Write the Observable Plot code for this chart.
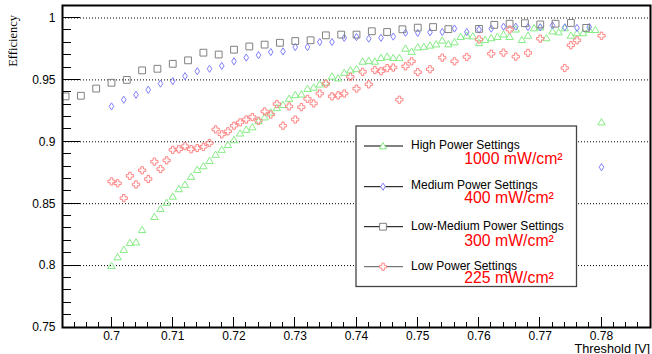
<!DOCTYPE html>
<html><head><meta charset="utf-8">
<script src="https://cdn.jsdelivr.net/npm/d3@7"></script>
<script src="https://cdn.jsdelivr.net/npm/@observablehq/plot@0.6"></script>
<style>body{margin:0;background:#fff;} svg{display:block}</style>
</head><body><div id="chart"></div>
<script>
// ---------- data ----------
const highThr = [0.700,0.701,0.702,0.703,0.704,0.705,0.707,0.708,0.709,0.710,0.711,0.712,0.713,0.714,0.715,0.716,0.717,0.718,0.719,0.720,0.721,0.722,0.723,0.724,0.725,0.726,0.727,0.728,0.729,0.730,0.731,0.732,0.733,0.734,0.735,0.736,0.737,0.738,0.739,0.740,0.741,0.742,0.743,0.744,0.745,0.746,0.747,0.748,0.749,0.750,0.751,0.752,0.753,0.754,0.755,0.756,0.757,0.758,0.759,0.760,0.761,0.762,0.763,0.764,0.765,0.766,0.767,0.768,0.769,0.770,0.771,0.772,0.773,0.774,0.775,0.776,0.777,0.778,0.779,0.780];
const highEff = [0.800,0.807,0.813,0.8185,0.819,0.829,0.8396,0.846,0.851,0.856,0.862,0.8655,0.872,0.8776,0.8805,0.8848,0.8898,0.8938,0.8977,0.9016,0.907,0.910,0.912,0.917,0.920,0.924,0.9275,0.930,0.935,0.938,0.9385,0.943,0.944,0.9466,0.948,0.953,0.9515,0.956,0.958,0.959,0.965,0.9655,0.965,0.968,0.969,0.968,0.968,0.9755,0.973,0.9765,0.977,0.978,0.979,0.982,0.979,0.9806,0.985,0.986,0.9854,0.980,0.9825,0.984,0.985,0.987,0.985,0.991,0.9825,0.986,0.992,0.9927,0.984,0.9895,0.9887,0.992,0.986,0.988,0.988,0.9906,0.9906,0.916];

const medThr = [0.700,0.702,0.704,0.706,0.708,0.710,0.712,0.714,0.716,0.718,0.720,0.722,0.724,0.726,0.728,0.730,0.732,0.734,0.736,0.738,0.740,0.742,0.744,0.746,0.748,0.750,0.752,0.754,0.756,0.758,0.760,0.762,0.764,0.766,0.768,0.770,0.772,0.774,0.776,0.778,0.780];
const medEff = [0.9286,0.934,0.938,0.942,0.947,0.949,0.953,0.957,0.959,0.9613,0.965,0.968,0.970,0.9725,0.973,0.9765,0.9765,0.9806,0.9806,0.984,0.9846,0.9833,0.984,0.985,0.988,0.988,0.9885,0.9887,0.9915,0.9887,0.9906,0.9914,0.993,0.993,0.9927,0.9925,0.994,0.9925,0.992,0.9927,0.8795];

const lowMedThr = [0.6925,0.695,0.6975,0.700,0.7025,0.705,0.7075,0.710,0.7125,0.715,0.7175,0.720,0.7225,0.725,0.7275,0.730,0.7325,0.735,0.7375,0.740,0.7425,0.745,0.7475,0.750,0.7525,0.755,0.760,0.7625,0.765,0.7675,0.770,0.7725,0.775,0.7775];
const lowMedEff = [0.9367,0.9372,0.943,0.9477,0.950,0.9577,0.959,0.963,0.9658,0.972,0.9705,0.9744,0.977,0.9785,0.980,0.9814,0.982,0.986,0.9866,0.9866,0.9893,0.9887,0.9909,0.9922,0.9927,0.991,0.9912,0.9945,0.9954,0.9958,0.9948,0.9954,0.996,0.992];

const lowThr = [0.700,0.701,0.702,0.703,0.704,0.705,0.706,0.707,0.708,0.709,0.710,0.711,0.712,0.713,0.714,0.715,0.716,0.717,0.718,0.719,0.720,0.721,0.722,0.723,0.724,0.725,0.726,0.727,0.728,0.729,0.730,0.731,0.732,0.733,0.734,0.735,0.736,0.737,0.738,0.739,0.740,0.741,0.742,0.743,0.744,0.745,0.746,0.747,0.748,0.749,0.750,0.752,0.754,0.756,0.758,0.760,0.762,0.764,0.765,0.766,0.768,0.770,0.774,0.775,0.776,0.780];
const lowEff = [0.868,0.8665,0.8545,0.8725,0.8655,0.877,0.870,0.884,0.878,0.885,0.8935,0.894,0.8965,0.894,0.895,0.896,0.899,0.910,0.906,0.9085,0.913,0.9157,0.918,0.920,0.917,0.9245,0.922,0.9305,0.913,0.9286,0.918,0.928,0.9347,0.931,0.939,0.947,0.9367,0.9375,0.939,0.9525,0.943,0.9565,0.9464,0.958,0.957,0.9595,0.960,0.934,0.961,0.965,0.9563,0.9586,0.968,0.965,0.9685,0.9827,0.9712,0.972,0.9907,0.9688,0.9718,0.9833,0.9596,0.978,0.982,0.9857];

const seriesNames = ["High Power Settings","Medium Power Settings","Low-Medium Power Settings","Low Power Settings"];
const powerLabels = ["1000 mW/cm\u00b2","400 mW/cm\u00b2","300 mW/cm\u00b2","225 mW/cm\u00b2"];
const colors = ["#86ec86","#7f7fff","#808080","#ff8585"];

const yMajor = [0.75,0.8,0.85,0.9,0.95,1];
const yGrid = [0.8,0.85,0.9,0.95,1];
const xMajor = [0.70,0.71,0.72,0.73,0.74,0.75,0.76,0.77,0.78];
const yMinor = d3.range(76,101).map(d => d/100);
const xMinor = d3.range(347,394).map(d => d/500);

// ---------- marker symbols (ROOT open markers) ----------
const triSym = {draw(c){c.moveTo(0,-3.4);c.lineTo(3.7,2.9);c.lineTo(-3.7,2.9);c.closePath();}};
const diaSym = {draw(c){c.moveTo(0,-3.6);c.lineTo(2.3,0);c.lineTo(0,3.6);c.lineTo(-2.3,0);c.closePath();}};
const sqSym  = {draw(c){c.moveTo(-3.4,-3.4);c.lineTo(3.4,-3.4);c.lineTo(3.4,3.4);c.lineTo(-3.4,3.4);c.closePath();}};
const crossSym = {draw(c){const a=3.6,b=1.25;
  c.moveTo(-b,-a);c.lineTo(b,-a);c.lineTo(b,-b);c.lineTo(a,-b);c.lineTo(a,b);c.lineTo(b,b);
  c.lineTo(b,a);c.lineTo(-b,a);c.lineTo(-b,b);c.lineTo(-a,b);c.lineTo(-a,-b);c.lineTo(-b,-b);c.closePath();}};
const symbols = [triSym, diaSym, sqSym, crossSym];

const thrs = [highThr, medThr, lowMedThr, lowThr];
const effs = [highEff, medEff, lowMedEff, lowEff];
const tables = thrs.map((t, i) => t.map((x, j) => ({x, y: effs[i][j]})));

const fmt = d => String(+d.toFixed(3));

const W = 652, H = 354, mL = 62, mR = 2, mT = 5, mB = 27;

const chart = Plot.plot({
  width: W, height: H,
  marginLeft: mL, marginRight: mR, marginTop: mT, marginBottom: mB,
  style: {fontFamily: "'Liberation Sans', Arial, Helvetica, sans-serif", fontSize: "12px", background: "white", color: "black"},
  x: {domain: [0.692, 0.788]},
  y: {domain: [0.75, 1.0101]},
  marks: [
    Plot.ruleY(yGrid, {stroke: "black", strokeWidth: 1, strokeDasharray: "1,2"}),
    ...tables.map((tb, i) => Plot.dot(tb, {x: "x", y: "y", symbol: symbols[i], stroke: colors[i], fill: "none", strokeWidth: 1, r: 3.5})),
    Plot.axisY(yMajor, {label: null, tickSize: 0, tickPadding: 7, tickFormat: fmt, fontSize: 12}),
    Plot.axisX(xMajor, {label: null, tickSize: 0, tickPadding: 4, tickFormat: fmt, fontSize: 12}),
    Plot.frame({stroke: "black", strokeWidth: 2})
  ]
});
document.getElementById("chart").appendChild(chart);

const svg = d3.select(chart);
const xs = chart.scale("x"), ys = chart.scale("y");
const x0 = mL, y0 = H - mB;

// inward ticks (ROOT style), positioned through Plot's own scales
const tg = svg.append("g").attr("stroke", "black").attr("stroke-width", 1).attr("shape-rendering", "crispEdges");
const tick = (x1, y1, x2, y2) => tg.append("line").attr("x1", x1).attr("y1", y1).attr("x2", x2).attr("y2", y2);
yMinor.forEach(v => { const y = ys.apply(v); tick(x0, y, x0 + 9, y); });
yMajor.forEach(v => { const y = ys.apply(v); tick(x0, y, x0 + 18, y); });
xMinor.forEach(v => { const x = xs.apply(v); tick(x, y0, x, y0 - 5); });
xMajor.forEach(v => { const x = xs.apply(v); tick(x, y0, x, y0 - 10); });

// axis titles
svg.append("text").attr("transform", "translate(17,15) rotate(-90)")
  .attr("text-anchor", "end").attr("font-family", "'Liberation Serif', 'Times New Roman', serif")
  .attr("font-size", 12.5).attr("fill", "black").text("Efficiency");
svg.append("text").attr("x", 650).attr("y", 352.5).attr("text-anchor", "end")
  .attr("font-size", 12.7).attr("fill", "black").text("Threshold [V]");

// legend
const lg = svg.append("g").attr("text-anchor", "start");
lg.append("rect").attr("x", 356).attr("y", 126).attr("width", 220.5).attr("height", 160.5)
  .attr("fill", "white").attr("stroke", "#444").attr("stroke-width", 1.3);
const entryY = [146, 186.7, 226.7, 266.7];
const nameY = [148.6, 189.2, 230, 269.5];
const powY = [163.5, 203.4, 246, 283.4];
seriesNames.forEach((name, i) => {
  lg.append("line").attr("x1", 364).attr("x2", 403).attr("y1", entryY[i]).attr("y2", entryY[i])
    .attr("stroke", i === 3 ? "#555" : "black").attr("stroke-width", 1);
  const p = d3.path(); symbols[i].draw(p);
  lg.append("path").attr("d", p.toString()).attr("transform", `translate(383,${entryY[i]})`)
    .attr("fill", "white").attr("stroke", colors[i]).attr("stroke-width", 1);
  lg.append("text").attr("x", 411).attr("y", nameY[i]).attr("text-anchor", "start")
    .attr("font-size", 12).attr("fill", "black").text(name);
  lg.append("text").attr("x", 464.3).attr("y", powY[i]).attr("text-anchor", "start")
    .attr("font-size", 15.8).attr("fill", "#ff0000").text(powerLabels[i]);
});
</script></body></html>
